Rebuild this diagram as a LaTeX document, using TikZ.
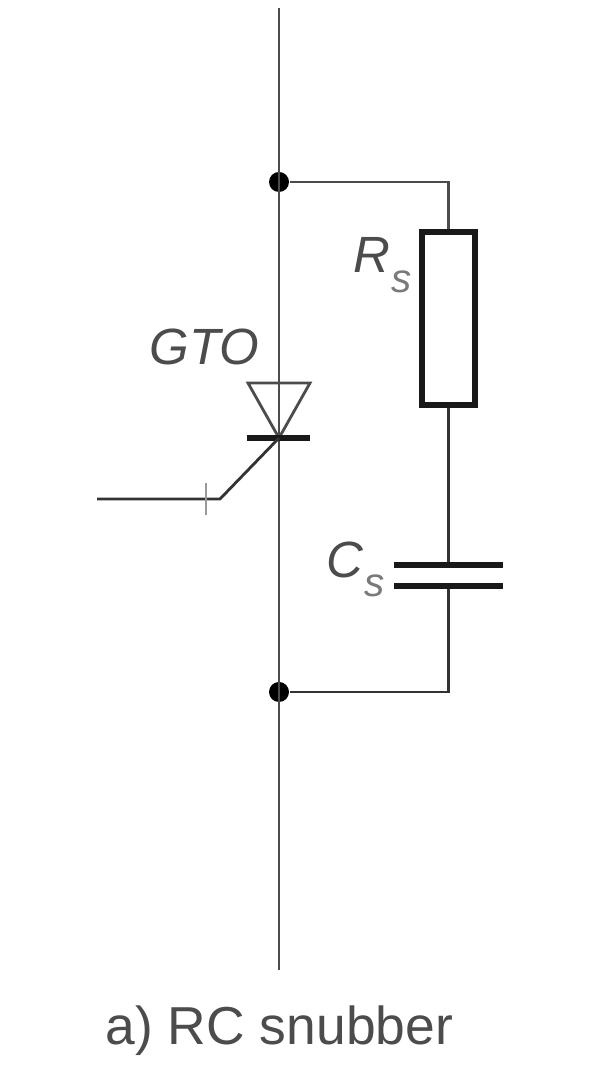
\documentclass[tikz,border=0pt]{standalone}
\usepackage{fontspec}
\setmainfont{Liberation Sans}
\usetikzlibrary{calc,positioning}
\definecolor{wire}{gray}{0.3}
\definecolor{lbl}{gray}{0.3}
\tikzset{
  dot/.style={circle,fill=black,inner sep=0pt,minimum size=0.2cm},
  wirepath/.style={draw=wire,line width=0.8pt},
  heavy/.style={draw=black!90,line width=1.5pt},
  lab/.style={inner sep=0pt,text=lbl,font=\fontsize{14.5}{16}\selectfont\itshape},
  sub/.style={inner sep=0pt,text=lbl!75,font=\fontsize{11.5}{12}\selectfont\itshape}
}
\begin{document}
\begin{tikzpicture}
  \useasboundingbox (0,0) rectangle (6.05,10.8);
  \coordinate (top) at (2.79,10.72);
  \coordinate (bot) at (2.79,1.10);
  \node[dot](n1)at(2.79,8.98){};
  \node[dot](n2)at(2.79,3.88){};
  \draw[wirepath] (top) -- (bot);
  % snubber branch
  \node[heavy,rectangle,inner sep=0pt,minimum width=0.53cm,minimum height=1.73cm,fill=white](rs)at(4.485,7.615){};
  \coordinate (c1) at (4.485,5.15);
  \coordinate (c2) at (4.485,4.94);
  \draw[wirepath] (n1) -| (rs.north);
  \draw[wirepath,draw=black!80] (rs.south) -- (c1);
  \draw[wirepath,draw=black!80] (c2) |- (n2);
  \coordinate (c1a) at (3.94,5.15);
  \coordinate (c1b) at (5.03,5.15);
  \coordinate (c2a) at (3.94,4.94);
  \coordinate (c2b) at (5.03,4.94);
  \draw[heavy] (c1a) -- (c1b);
  \draw[heavy] (c2a) -- (c2b);
  % gto
  \coordinate (ta) at (2.48,6.97);
  \coordinate (tb) at (3.10,6.97);
  \coordinate (tc) at (2.79,6.42);
  \draw[wirepath] (ta) -- (tb) -- (tc) -- cycle;
  \coordinate (ba) at (2.47,6.42);
  \coordinate (bb) at (3.10,6.42);
  \draw[heavy,line width=1.9pt] (ba) -- (bb);
  \coordinate (g1) at (2.20,5.81);
  \coordinate (g2) at (0.97,5.81);
  \draw[wirepath,draw=black!80] (tc) -- (g1) -- (g2);
  \coordinate (ga) at (2.06,5.97);
  \coordinate (gb) at (2.06,5.65);
  \draw[draw=gray!80,line width=0.6pt] (ga) -- (gb);
  % labels
  \node[lab,anchor=base west](gto)at(1.49,7.15){GTO};
  \node[lab,anchor=base west](r)at(3.53,8.07){R};
  \node[sub,anchor=base west](rsub)at(3.91,7.87){s};
  \node[lab,anchor=base west](c)at(3.26,5.02){C};
  \node[sub,anchor=base west](csub)at(3.64,4.83){s};
  \node[inner sep=0pt,anchor=base west,text=lbl,font=\fontsize{15.2}{18}\selectfont](cap)at(1.05,0.35){a) RC snubber};
\end{tikzpicture}
\end{document}
